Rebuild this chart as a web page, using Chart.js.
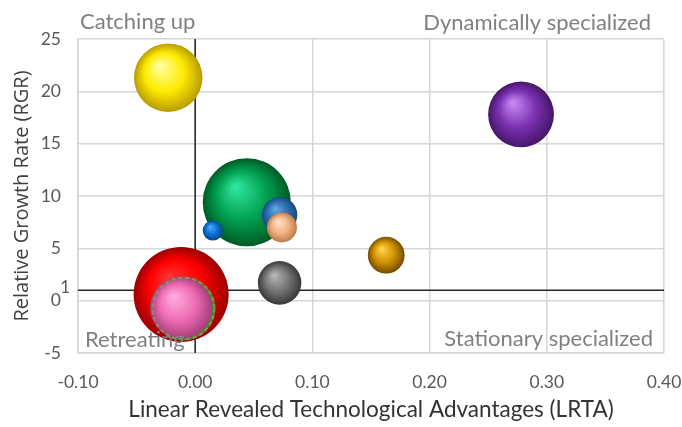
<!DOCTYPE html>
<html>
<head>
<meta charset="utf-8">
<script src="https://cdn.jsdelivr.net/npm/chart.js@4.4.1/dist/chart.umd.min.js"></script>
<style>
  body { margin: 0; background: #fff; }
  #wrap { width: 682px; height: 427px; }
</style>
</head>
<body>
<div id="wrap"><canvas id="chart" width="682" height="427"></canvas></div>
<script>
// bubbles: LRTA (x), RGR (y), relative bubble size
const lrta = [-0.023, 0.278, 0.044, 0.015, 0.072, 0.074, 0.163, 0.072, -0.012, -0.010, -0.012];
const rgr  = [21.3, 17.8, 9.4, 6.7, 8.2, 7.0, 4.35, 1.7, 0.6, -0.75, -0.67];
const size = [52, 48, 86, 4.5, 14, 10, 15, 21, 100, 45, 43];

const xTicks = [-0.1, 0, 0.1, 0.2, 0.3, 0.4];
const yTicks = [-5, 0, 5, 10, 15, 20, 25];
const crossX = 0;   // vertical quadrant line
const crossY = 1;   // horizontal quadrant line
const quadrants = ['Catching up', 'Dynamically specialized', 'Retreating', 'Stationary specialized'];

// sphere shading per bubble: highlight, base, edge
const shades = [
  ['#ffff9c', '#ffea00', '#b89c00'],
  ['#c486f0', '#7a30b0', '#461668'],
  ['#2ee39a', '#00a050', '#005a26'],
  ['#4aa8ff', '#0a72d2', '#0a4688'],
  ['#5fa2e2', '#2c70b2', '#1a4a80'],
  ['#ffe2cc', '#f4b183', '#bd7a4c'],
  ['#ffd24a', '#d09200', '#744c00'],
  ['#b4b4b4', '#727272', '#383838'],
  ['#ff3030', '#ff0000', '#9a0000'],
  ['#8cc466', '#6fa84a', '#4e7e30'],
  ['#ffaade', '#ee6db4', '#a63e7a']
];
const dashedIdx = 9;
const maxR = 47.5;

function radius(i) { return maxR * Math.sqrt(size[i] / Math.max(...size)); }

function sphere(c) {
  const i = c.dataIndex;
  const s = shades[i];
  const sc = c.chart.scales;
  if (!sc.x || !sc.y) return s[1];
  const px = sc.x.getPixelForValue(lrta[i]);
  const py = sc.y.getPixelForValue(rgr[i]);
  if (!isFinite(px) || !isFinite(py)) return s[1];
  const r = radius(i);
  const g = c.chart.ctx.createRadialGradient(px - r * 0.25, py - r * 0.35, r * 0.05, px, py, r);
  g.addColorStop(0, s[0]);
  g.addColorStop(0.55, s[1]);
  g.addColorStop(1, s[2]);
  return g;
}

const extras = {
  id: 'extras',
  beforeDatasetsDraw(chart) {
    const { ctx, chartArea: a, scales: { x, y } } = chart;
    const px = x.getPixelForValue(crossX), py = y.getPixelForValue(crossY);
    ctx.save();
    ctx.strokeStyle = '#262626';
    ctx.lineWidth = 1.5;
    ctx.beginPath();
    ctx.moveTo(px, a.top); ctx.lineTo(px, a.bottom);
    ctx.moveTo(a.left, py); ctx.lineTo(a.right, py);
    ctx.stroke();
    ctx.fillStyle = '#595959';
    ctx.font = '17px Lato';
    ctx.textAlign = 'right';
    ctx.textBaseline = 'middle';
    ctx.fillText(String(crossY), a.left - 8, py - 3);
    ctx.restore();
  },
  afterDatasetsDraw(chart) {
    const { ctx, chartArea: a } = chart;
    const el = chart.getDatasetMeta(0).data[dashedIdx];
    ctx.save();
    ctx.setLineDash([4, 3]);
    ctx.lineWidth = 2;
    ctx.strokeStyle = '#7f9a55';
    ctx.beginPath();
    ctx.arc(el.x, el.y, el.options.radius - 1, 0, Math.PI * 2);
    ctx.stroke();
    ctx.setLineDash([]);

    ctx.fillStyle = '#808080';
    ctx.font = '22px Lato';
    ctx.textBaseline = 'middle';
    ctx.textAlign = 'left';
    ctx.fillText(quadrants[0], a.left + 2, a.top - 17);
    ctx.fillText(quadrants[2], a.left + 7, a.bottom - 13);
    ctx.textAlign = 'right';
    ctx.fillText(quadrants[1], a.right - 13, a.top - 16);
    ctx.fillText(quadrants[3], a.right - 11, a.bottom - 14);
    ctx.restore();
  }
};

new Chart(document.getElementById('chart'), {
  type: 'bubble',
  data: {
    datasets: [{
      data: lrta.map((v, i) => ({ x: v, y: rgr[i], r: radius(i) })),
      backgroundColor: sphere,
      borderWidth: 0,
      hoverBorderWidth: 0
    }]
  },
  options: {
    responsive: false,
    animation: false,
    events: [],
    layout: { autoPadding: false, padding: { top: 39, right: 18, bottom: 0, left: 0 } },
    plugins: { legend: { display: false }, tooltip: { enabled: false } },
    scales: {
      x: {
        type: 'linear',
        min: xTicks[0],
        max: xTicks[xTicks.length - 1],
        afterBuildTicks: s => { s.ticks = xTicks.map(v => ({ value: v })); },
        afterFit: s => { s.height = 74; },
        ticks: {
          padding: 0,
          color: '#595959',
          font: { family: 'Lato', size: 17.5 },
          callback: v => v.toFixed(2)
        },
        grid: { color: '#d6d6d6', lineWidth: 1.5, drawTicks: true, tickLength: 19, tickColor: 'rgba(0,0,0,0)' },
        border: { color: '#d6d6d6', width: 1.5 },
        title: {
          display: true,
          text: 'Linear Revealed Technological Advantages (LRTA)',
          color: '#333333',
          font: { family: 'Lato', size: 22.5 },
          padding: { top: 0, bottom: 4 }
        }
      },
      y: {
        type: 'linear',
        min: yTicks[0],
        max: yTicks[yTicks.length - 1],
        afterBuildTicks: s => { s.ticks = yTicks.map(v => ({ value: v })); },
        afterFit: s => { s.width = 78; },
        ticks: {
          padding: 17,
          color: '#595959',
          font: { family: 'Lato', size: 17.5 }
        },
        grid: { color: '#d6d6d6', lineWidth: 1.5, drawTicks: false },
        border: { color: '#d6d6d6', width: 1.5 },
        title: {
          display: true,
          text: 'Relative Growth Rate (RGR)',
          color: '#404040',
          font: { family: 'Open Sans', size: 20 },
          padding: { top: 10, bottom: 0 }
        }
      }
    }
  },
  plugins: [extras]
});
</script>
</body>
</html>
